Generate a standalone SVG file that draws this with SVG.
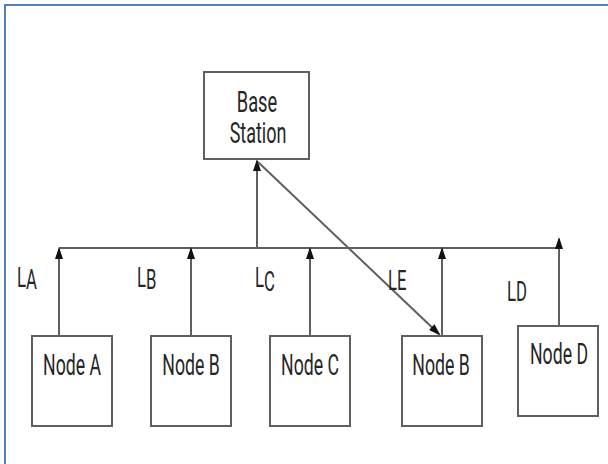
<svg xmlns="http://www.w3.org/2000/svg" width="608" height="464" viewBox="0 0 608 464">
<style>
.frame{fill:none;stroke:#4f81bd;stroke-width:2}
.box{fill:#fff;stroke:#5f5f5f;stroke-width:2}
.t{font-family:Roboto,"Liberation Sans",sans-serif;font-size:29px;fill:#262626;text-anchor:middle}
.lbl{font-family:Roboto,"Liberation Sans",sans-serif;font-size:27px;fill:#262626}
.ln{fill:none;stroke:#5f5f5f;stroke-width:2}
.ar{fill:none;stroke:#5f5f5f;stroke-width:2;marker-end:url(#ah)}
</style>
<defs>
<marker id="ah" markerWidth="12" markerHeight="8" refX="10" refY="4" orient="auto" markerUnits="userSpaceOnUse" viewBox="0 0 12 8">
<path d="M0,0 L12,4 L0,8 Z" fill="#111"/>
</marker>
</defs>
<rect width="608" height="464" fill="#fff"/>
<rect class="frame" x="5" y="5" width="620" height="480"/>
<g id="connectors">
<line class="ln" x1="59" y1="248" x2="558" y2="248"/>
<line class="ar" x1="257" y1="248" x2="257" y2="161"/>
<line class="ar" x1="258" y1="162" x2="439" y2="334"/>
<line class="ar" x1="59" y1="336" x2="59" y2="249"/>
<line class="ar" x1="191" y1="336" x2="191" y2="249"/>
<line class="ar" x1="310" y1="336" x2="310" y2="249"/>
<line class="ar" x1="442" y1="336" x2="442" y2="249"/>
<line class="ar" x1="559" y1="326" x2="559" y2="239"/>
</g>
<g id="labels">
<text class="lbl" transform="translate(17,287) scale(0.62,1)">L<tspan dy="2">A</tspan></text>
<text class="lbl" transform="translate(137,287) scale(0.62,1)">L<tspan dy="2">B</tspan></text>
<text class="lbl" transform="translate(255,287) scale(0.62,1)">L<tspan dy="4">C</tspan></text>
<text class="lbl" transform="translate(388,290) scale(0.62,1)">LE</text>
<text class="lbl" transform="translate(507,301) scale(0.62,1)">LD</text>
</g>
<g id="base-station">
<rect class="box" x="204" y="72" width="105" height="87"/>
<text class="t" transform="translate(257,112) scale(0.63,1)">Base</text>
<text class="t" transform="translate(258,143) scale(0.62,1)">Station</text>
</g>
<g id="node-a">
<rect class="box" x="32" y="336" width="80" height="90"/>
<text class="t" transform="translate(72,375) scale(0.61,1)">Node A</text>
</g>
<g id="node-b">
<rect class="box" x="151" y="336" width="80" height="90"/>
<text class="t" transform="translate(191,375) scale(0.61,1)">Node B</text>
</g>
<g id="node-c">
<rect class="box" x="270" y="336" width="80" height="90"/>
<text class="t" transform="translate(310,375) scale(0.61,1)">Node C</text>
</g>
<g id="node-b2">
<rect class="box" x="402" y="336" width="80" height="90"/>
<text class="t" transform="translate(441,375) scale(0.61,1)">Node B</text>
</g>
<g id="node-d">
<rect class="box" x="518" y="326" width="80" height="90"/>
<text class="t" transform="translate(559,364) scale(0.61,1)">Node D</text>
</g>
</svg>
